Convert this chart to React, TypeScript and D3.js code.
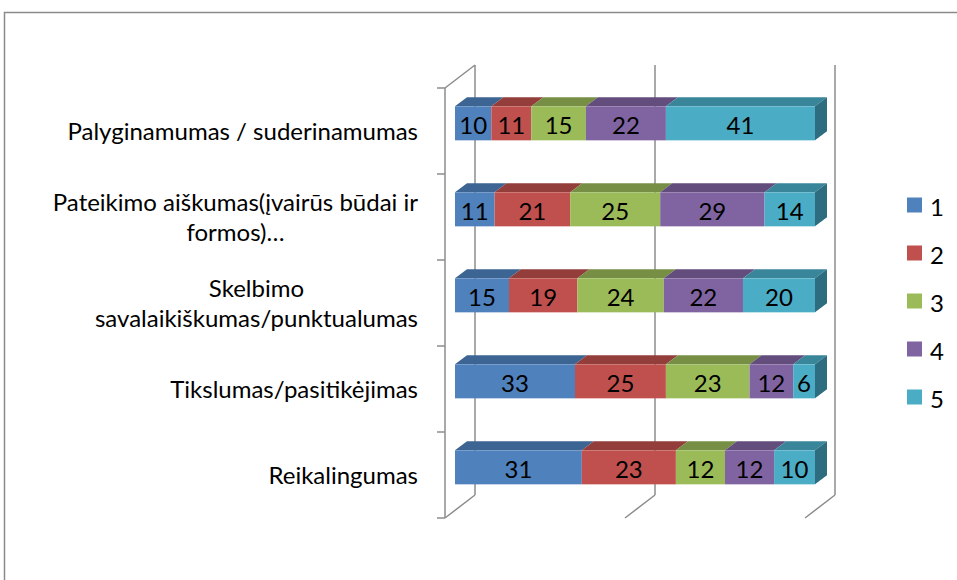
import React from 'react';
import * as d3 from 'd3';

const categories = [
  'Palyginamumas / suderinamumas',
  'Pateikimo aiškumas(įvairūs būdai ir\nformos)…',
  'Skelbimo\nsavalaikiškumas/punktualumas',
  'Tikslumas/pasitikėjimas',
  'Reikalingumas',
];
const seriesNames = ['1', '2', '3', '4', '5'];
const s1 = [10, 11, 15, 33, 31];
const s2 = [11, 21, 19, 25, 23];
const s3 = [15, 25, 24, 23, 12];
const s4 = [22, 29, 22, 12, 12];
const s5 = [41, 14, 20, 6, 10];
const seriesValues = [s1, s2, s3, s4, s5];
const xTicks = [0, 0.5, 1];

const faceColors = ['#4F81BD', '#C0504D', '#9BBB59', '#8064A2', '#4BACC6'];
const topColors = ['#3D6594', '#933E3B', '#768F45', '#634D7D', '#39869B'];
const sideColors = ['#2F4D72', '#722F2D', '#5B6E35', '#4C3B60', '#2D6D7F'];

const FONT = 'Lato, "Open Sans", sans-serif';
const FS = 24;
const FSD = 24;

function measure(text: string): number {
  const c = document.createElement('canvas').getContext('2d');
  if (!c) return text.length * FS * 0.5;
  c.font = `${FS}px Lato`;
  return c.measureText(text).width;
}

export default function App() {
  const W = 957, H = 580;
  const x = d3.scaleLinear().domain([0, 1]).range([475, 835]);
  const y = d3.scaleBand<string>().domain(categories).range([65, 495]).padding(0);
  const DX = -30, DY = 23; // full depth offset (back wall -> front edge)
  const off = (d: number) => [DX * d, DY * d];
  const barFront = 0.667, barBack = 0.267;
  const barH = 34;

  const rows = categories.map((cat, i) => {
    const vals = seriesValues.map(s => s[i]);
    const total = d3.sum(vals);
    let acc = 0;
    const segs = vals.map((v, j) => {
      const a = acc / total;
      acc += v;
      return { j, v, a, b: acc / total };
    });
    return { cat, segs };
  });

  const [fx, fy] = off(barFront);
  const [bx, by] = off(barBack);
  const [ex, ey] = off(1);
  const bw = y.bandwidth();

  return (
    <svg width={W} height={H} style={{ position: 'absolute', left: 0, top: 0, background: '#fff' }}
      fontFamily={FONT}>
      <rect x={4.5} y={12.5} width={1200} height={1200} fill="#fff" stroke="#8a8a8a" strokeWidth={1.5} />
      {/* back wall gridlines */}
      {xTicks.map(t => (
        <g key={t}>
          <line x1={x(t)} x2={x(t)} y1={65} y2={495} stroke="#8c8c8c" strokeWidth={1.5} />
          <line x1={x(t)} x2={x(t) + ex} y1={495} y2={495 + ey} stroke="#8c8c8c" strokeWidth={1.5} />
        </g>
      ))}
      {/* left wall top edge and front axis */}
      <line x1={x(0)} y1={65} x2={x(0) + ex} y2={65 + ey} stroke="#8c8c8c" strokeWidth={1.5} />
      <line x1={x(0) + ex} y1={65 + ey} x2={x(0) + ex} y2={495 + ey} stroke="#8c8c8c" strokeWidth={1.5} />
      {d3.range(categories.length + 1).map(k => {
        const yy = 65 + k * bw + ey;
        return <line key={k} x1={x(0) + ex - 8} x2={x(0) + ex} y1={yy} y2={yy} stroke="#8c8c8c" strokeWidth={1.5} />;
      })}
      {/* bars */}
      {rows.map(r => {
        const cy = (y(r.cat) as number) + bw / 2;
        const top = cy - barH / 2 + fy;
        const bot = cy + barH / 2 + fy;
        const dxx = bx - fx, dyy = by - fy;
        return (
          <g key={r.cat}>
            {r.segs.map(s => {
              const x0 = x(s.a) + fx, x1 = x(s.b) + fx;
              return (
                <g key={s.j}>
                  <path d={`M${x0},${top}L${x0 + dxx},${top + dyy}L${x1 + dxx},${top + dyy}L${x1},${top}Z`}
                    fill={topColors[s.j]} />
                  <rect x={x0} y={top} width={x1 - x0} height={bot - top} fill={faceColors[s.j]} />
                </g>
              );
            })}
            {(() => {
              const last = r.segs[r.segs.length - 1];
              const x1 = x(last.b) + fx;
              return <path d={`M${x1},${top}L${x1 + dxx},${top + dyy}L${x1 + dxx},${bot + dyy}L${x1},${bot}Z`}
                fill={sideColors[last.j]} />;
            })()}
            {r.segs.map(s => (
              <text key={'t' + s.j} x={(x(s.a) + x(s.b)) / 2 + fx} y={cy + fy + 1}
                textAnchor="middle" dominantBaseline="central" fontSize={FSD} fill="#000">{s.v}</text>
            ))}
          </g>
        );
      })}
      {/* category labels */}
      {categories.map(cat => {
        const lines = cat.split('\n');
        const wMax = d3.max(lines, l => measure(l)) as number;
        const cx = 418 - wMax / 2;
        const cy = (y(cat) as number) + bw / 2 + ey - 1;
        const lh = 30;
        return (
          <g key={cat}>
            {lines.map((l, k) => (
              <text key={k} x={cx} y={cy + (k - (lines.length - 1) / 2) * lh}
                textAnchor="middle" dominantBaseline="central" fontSize={FS} fill="#000">{l}</text>
            ))}
          </g>
        );
      })}
      {/* legend */}
      {seriesNames.map((n, i) => (
        <g key={n} transform={`translate(907,${205 + i * 48})`}>
          <rect x={0} y={-7.5} width={15} height={15} fill={faceColors[i]} />
          <text x={23} y={1} dominantBaseline="central" fontSize={FS} fill="#000">{n}</text>
        </g>
      ))}
    </svg>
  );
}
